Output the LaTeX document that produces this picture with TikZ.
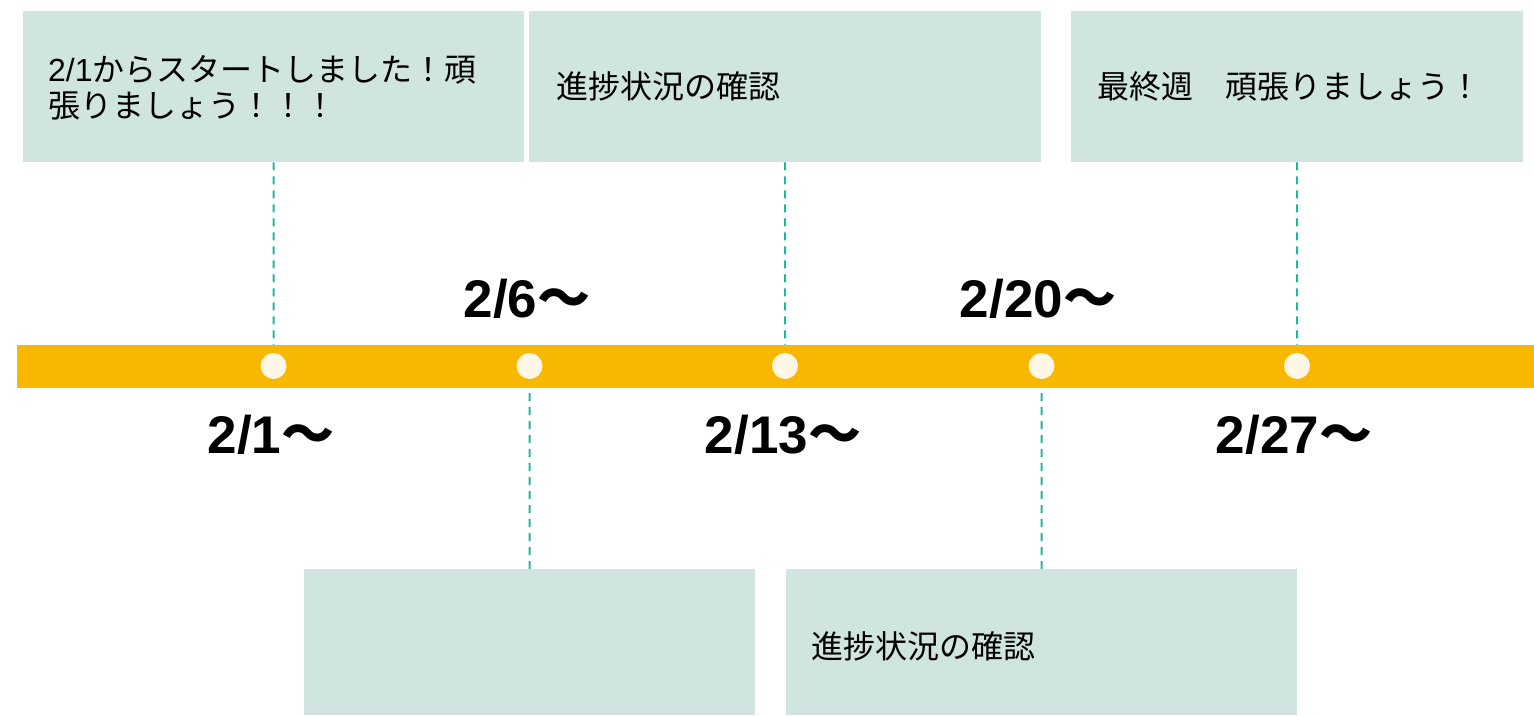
\documentclass[tikz,border=0pt]{standalone}
\usepackage{fontspec}
\setmainfont{Liberation Sans}
\newfontfamily\cjk{Noto Sans CJK JP}
\definecolor{boxfill}{HTML}{D0E5E0}
\definecolor{barcol}{HTML}{F9B800}
\definecolor{dotcol}{HTML}{FFF6E5}
\definecolor{dashcol}{HTML}{22B5A2}
\begin{document}
\begin{tikzpicture}[x=1pt,y=-1pt,
  box/.style={fill=boxfill,draw=none,anchor=north west,inner sep=0pt},
  boxtext/.style={anchor=west,align=left,inner sep=0pt,font=\fontsize{32}{36}\selectfont\cjk},
  datelab/.style={anchor=base,inner sep=0pt,font=\fontsize{53}{60}\selectfont\bfseries},
  dot/.style={circle,fill=dotcol,draw=none,minimum size=26pt,inner sep=0pt},
  guide/.style={draw=dashcol,line width=2pt,dash pattern=on 8pt off 6pt}]
\useasboundingbox (0,0) rectangle (1534,715);
% boxes
\node[box,minimum width=501pt,minimum height=151pt] (b1) at (23,11) {};
\node[box,minimum width=512pt,minimum height=151pt] (b2) at (529,11) {};
\node[box,minimum width=452pt,minimum height=151pt] (b3) at (1071,11) {};
\node[box,minimum width=451pt,minimum height=146pt] (b4) at (304,569) {};
\node[box,minimum width=511pt,minimum height=146pt] (b5) at (786,569) {};
% points
\coordinate (p1) at (273.5,366);
\coordinate (p2) at (529.5,366);
\coordinate (p3) at (785,366);
\coordinate (p4) at (1041.5,366);
\coordinate (p5) at (1297,366);
% guides
\draw[guide] (b1.south) -- (p1);
\draw[guide] (b2.south) -- (p3);
\draw[guide] (b3.south) -- (p5);
\draw[guide] (b4.north) -- (p2);
\draw[guide] (b5.north) -- (p4);
% bar
\node[fill=barcol,draw=none,anchor=north west,inner sep=0pt,minimum width=1517pt,minimum height=43pt] (bar) at (17,345) {};
% dots
\node[dot] (c1) at (p1) {};
\node[dot] (c2) at (p2) {};
\node[dot] (c3) at (p3) {};
\node[dot] (c4) at (p4) {};
\node[dot] (c5) at (p5) {};
% box texts
\node[boxtext] (t1) at (48,88) {{\rmfamily 2/1}からスタートしました！頑\\張りましょう！！！};
\node[boxtext] (t2) at (556,86) {進捗状況の確認};
\node[boxtext] (t3) at (1097,86) {最終週　頑張りましょう！};
\node[boxtext] (t5) at (811,646) {進捗状況の確認};
% date labels
\node[datelab] (d1) at (271,453) {2/1{\cjk ～}};
\node[datelab] (d2) at (527,317) {2/6{\cjk ～}};
\node[datelab] (d3) at (783,453) {2/13{\cjk ～}};
\node[datelab] (d4) at (1038,317) {2/20{\cjk ～}};
\node[datelab] (d5) at (1294,453) {2/27{\cjk ～}};
\end{tikzpicture}
\end{document}
